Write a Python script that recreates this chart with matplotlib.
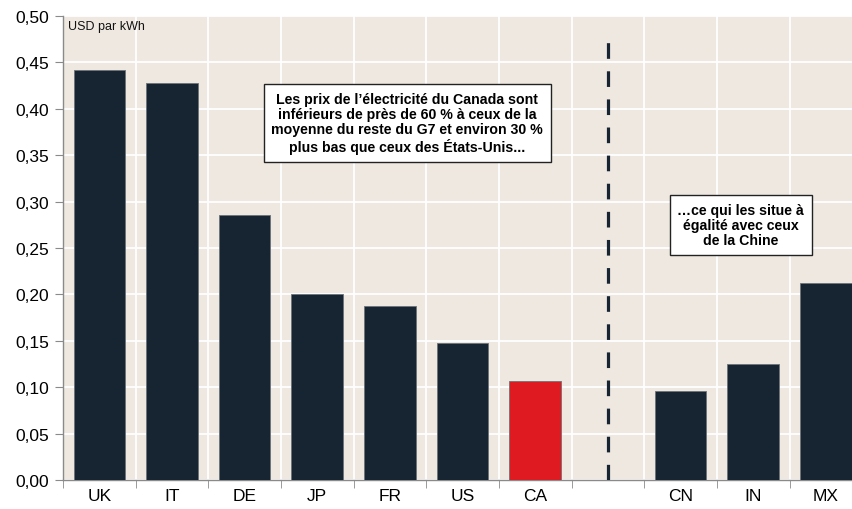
import numpy as np
import matplotlib.pyplot as plt
from matplotlib.ticker import FixedLocator, FuncFormatter

# data
countries = ['UK', 'IT', 'DE', 'JP', 'FR', 'US', 'CA', '', 'CN', 'IN', 'MX']
prices = [0.442, 0.428, 0.2856, 0.200, 0.1875, 0.148, 0.107, np.nan, 0.096, 0.125, 0.212]
highlight = 'CA'

note_left = ("Les prix de l\u2019électricité du Canada sont\n"
             "inférieurs de près de 60 % à ceux de la\n"
             "moyenne du reste du G7 et environ 30 %\n"
             "plus bas que ceux des États-Unis...")
note_right = "\u2026ce qui les situe à\négalité avec ceux\nde la Chine"

narrow = ['Liberation Sans Narrow', 'Liberation Sans', 'DejaVu Sans']
plt.rcParams['font.family'] = ['Liberation Sans', 'DejaVu Sans']

bg = '#EFE8E1'
navy = '#172533'
red = '#DF1A20'

fig = plt.figure(figsize=(8.52, 5.10), dpi=100)
ax = fig.add_axes([63 / 852, 29 / 510, 1 - 63 / 852, 464 / 510])
ax.set_facecolor(bg)

x = np.arange(len(countries))
colors = [red if c == highlight else navy for c in countries]
ax.bar(x, prices, width=0.71, color=colors, edgecolor='#6b737a', linewidth=0.6, zorder=3)

ax.set_xlim(-0.5, 10.36)
ax.set_ylim(0, 0.5)

# separator between G7 and the others
sep = countries.index('')
ax.plot([sep, sep], [0, 0.484], color=navy, linewidth=2.3, dashes=(4.9, 3.9), zorder=4)

ax.set_yticks(np.arange(0, 0.501, 0.05))
ax.yaxis.set_major_formatter(FuncFormatter(lambda v, p: f'{v:.2f}'.replace('.', ',')))
ax.set_xticks(x)
ax.set_xticklabels(countries)
ax.xaxis.set_minor_locator(FixedLocator(np.arange(-0.5, 11, 1)))

ax.grid(axis='y', which='major', color='white', linewidth=1.3, zorder=0)
ax.grid(axis='x', which='minor', color='white', linewidth=1.3, zorder=0)
ax.set_axisbelow(True)

ax.tick_params(axis='x', which='major', length=0, pad=6)
ax.tick_params(axis='x', which='minor', length=6, color='#8a8a8a', direction='out')
ax.tick_params(axis='y', length=6, color='#8a8a8a', direction='out', pad=4)
for lab in ax.get_xticklabels() + ax.get_yticklabels():
    lab.set_fontfamily(narrow)
    lab.set_fontsize(12.5)

for s in ['top', 'right']:
    ax.spines[s].set_visible(False)
for s in ['left', 'bottom']:
    ax.spines[s].set_color('#8a8a8a')
    ax.spines[s].set_linewidth(1)

ax.text(0.006, 0.992, 'USD par kWh', transform=ax.transAxes, fontsize=9,
        ha='left', va='top', color='#111111')

box = dict(boxstyle='square,pad=0.55', facecolor='white', edgecolor='#222222', linewidth=1)
ax.text(4.24, 0.3847, note_left, fontsize=10.2, fontweight='bold', ha='center', va='center',
        linespacing=1.1, bbox=box, zorder=5)
ax.text(8.83, 0.2748, note_right, fontsize=10.2, fontweight='bold', ha='center', va='center',
        linespacing=1.1, bbox=box, zorder=5)

fig.savefig('out.png', dpi=100, facecolor='white')
